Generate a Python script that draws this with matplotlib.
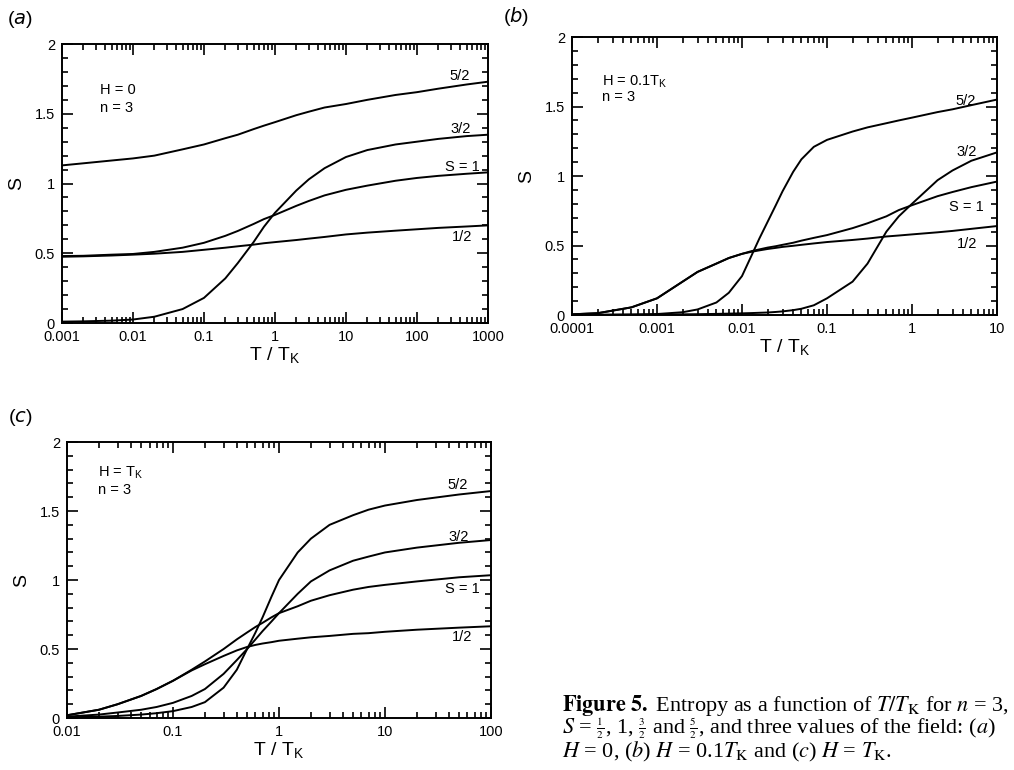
import numpy as np
import matplotlib
matplotlib.use('Agg')
import matplotlib.pyplot as plt
from matplotlib.ticker import LogLocator, MultipleLocator, FuncFormatter, NullFormatter

plt.rcParams['font.family'] = ['Liberation Sans', 'DejaVu Sans']

# panel (a): H = 0
xa = [0.001, 0.002, 0.005, 0.01, 0.02, 0.05, 0.1, 0.2, 0.3, 0.5, 0.7, 1, 2, 3, 5,
      10, 20, 50, 100, 200, 500, 1000]
a_52 = [1.13, 1.145, 1.165, 1.18, 1.20, 1.245, 1.28, 1.325, 1.35, 1.39, 1.415, 1.44,
        1.49, 1.515, 1.545, 1.57, 1.60, 1.635, 1.655, 1.68, 1.71, 1.73]
a_32 = [0.01, 0.012, 0.017, 0.025, 0.045, 0.10, 0.18, 0.32, 0.43, 0.58, 0.69, 0.79,
        0.95, 1.03, 1.11, 1.19, 1.24, 1.28, 1.30, 1.32, 1.34, 1.35]
a_1 = [0.48, 0.482, 0.49, 0.495, 0.51, 0.54, 0.575, 0.625, 0.66, 0.71, 0.745, 0.775,
       0.84, 0.875, 0.915, 0.955, 0.985, 1.02, 1.04, 1.055, 1.07, 1.08]
a_12 = [0.475, 0.478, 0.484, 0.49, 0.497, 0.51, 0.525, 0.54, 0.55, 0.562, 0.572, 0.58,
        0.595, 0.605, 0.617, 0.635, 0.648, 0.662, 0.672, 0.682, 0.692, 0.70]

# panel (b): H = 0.1 T_K
xb = [0.0001, 0.0002, 0.0005, 0.001, 0.002, 0.003, 0.005, 0.007, 0.01, 0.013, 0.016,
      0.02, 0.025, 0.03, 0.04, 0.05, 0.07, 0.1, 0.2, 0.3, 0.5, 0.7, 1, 2, 3, 5, 10]
b_52 = [0.0, 0.002, 0.004, 0.007, 0.02, 0.04, 0.09, 0.16, 0.28, 0.43, 0.55, 0.67,
        0.79, 0.89, 1.03, 1.12, 1.21, 1.26, 1.32, 1.35, 1.38, 1.40, 1.42, 1.46, 1.48,
        1.51, 1.55]
b_32 = [0.0, 0.001, 0.002, 0.003, 0.005, 0.006, 0.008, 0.01, 0.012, 0.014, 0.016,
        0.018, 0.022, 0.026, 0.035, 0.045, 0.07, 0.12, 0.24, 0.37, 0.60, 0.71, 0.80,
        0.97, 1.04, 1.11, 1.17]
b_1 = [0.005, 0.013, 0.055, 0.12, 0.24, 0.31, 0.37, 0.41, 0.44, 0.46, 0.472, 0.485,
       0.495, 0.505, 0.52, 0.535, 0.555, 0.575, 0.625, 0.66, 0.71, 0.755, 0.79, 0.855,
       0.885, 0.92, 0.96]
b_12 = [0.005, 0.013, 0.055, 0.12, 0.24, 0.31, 0.37, 0.41, 0.44, 0.455, 0.465, 0.475,
        0.483, 0.49, 0.498, 0.505, 0.515, 0.525, 0.54, 0.55, 0.565, 0.572, 0.58, 0.595,
        0.605, 0.62, 0.64]

# panel (c): H = T_K
xc = [0.01, 0.02, 0.03, 0.05, 0.07, 0.1, 0.15, 0.2, 0.3, 0.4, 0.5, 0.6, 0.7, 0.85,
      1, 1.5, 2, 3, 5, 7, 10, 20, 50, 100]
c_52 = [0.005, 0.01, 0.015, 0.025, 0.035, 0.05, 0.08, 0.115, 0.22, 0.35, 0.50, 0.62,
        0.73, 0.88, 1.00, 1.20, 1.30, 1.40, 1.47, 1.51, 1.54, 1.58, 1.62, 1.645]
c_32 = [0.01, 0.025, 0.04, 0.06, 0.08, 0.11, 0.16, 0.21, 0.32, 0.42, 0.50, 0.57,
        0.63, 0.70, 0.76, 0.90, 0.99, 1.07, 1.14, 1.17, 1.20, 1.235, 1.27, 1.29]
c_1 = [0.02, 0.06, 0.10, 0.16, 0.21, 0.27, 0.35, 0.41, 0.50, 0.57, 0.62, 0.66, 0.69,
       0.73, 0.76, 0.81, 0.85, 0.89, 0.93, 0.95, 0.965, 0.99, 1.02, 1.035]
c_12 = [0.02, 0.06, 0.10, 0.16, 0.21, 0.27, 0.345, 0.39, 0.45, 0.49, 0.515, 0.53,
        0.54, 0.55, 0.56, 0.575, 0.585, 0.595, 0.61, 0.615, 0.625, 0.64, 0.655, 0.665]

curve_names = ['5/2', '3/2', 'S = 1', '1/2']


def style_axes(ax, xmin, xmax):
    ax.set_xscale('log')
    ax.set_xlim(xmin, xmax)
    ax.set_ylim(0, 2)
    ax.xaxis.set_major_locator(LogLocator(base=10, numticks=20))
    ax.xaxis.set_minor_locator(LogLocator(base=10, subs=np.arange(2, 10), numticks=20))
    ax.xaxis.set_major_formatter(FuncFormatter(lambda v, p: '%g' % v))
    ax.xaxis.set_minor_formatter(NullFormatter())
    ax.yaxis.set_major_locator(MultipleLocator(0.5))
    ax.yaxis.set_minor_locator(MultipleLocator(0.1))
    ax.yaxis.set_major_formatter(FuncFormatter(lambda v, p: '%g' % v))
    ax.tick_params(which='both', direction='in', top=True, right=True, width=1.2,
                   labelsize=10.5)
    ax.tick_params(which='major', length=8, pad=5)
    ax.tick_params(which='minor', length=4)
    for sp in ax.spines.values():
        sp.set_linewidth(1.4)
    ax.set_xlabel('T / T$_\\mathregular{K}$', fontsize=14, labelpad=1)
    ax.set_ylabel('S', fontsize=14, labelpad=7)


fig = plt.figure(figsize=(10.14, 7.7), dpi=100)

panels = [
    ([0.0611, 0.5805, 0.4201, 0.3623], xa, [a_52, a_32, a_1, a_12], 0.001, 1000,
     [(0.934, 0.885), (0.936, 0.695), (0.939, 0.559), (0.939, 0.307)],
     ['H = 0', 'n = 3'], [(0.089, 0.835), (0.089, 0.771)], 'a', (7, 20)),
    ([0.5641, 0.5909, 0.4191, 0.3610], xb, [b_52, b_32, b_1, b_12], 0.0001, 10,
     [(0.927, 0.770), (0.929, 0.586), (0.927, 0.388), (0.929, 0.255)],
     ['H = 0.1T$_\\mathregular{K}$', 'n = 3'], [(0.071, 0.840), (0.071, 0.786)],
     'b', (503, 17)),
    ([0.0661, 0.0675, 0.4181, 0.3584], xc, [c_52, c_32, c_1, c_12], 0.01, 100,
     [(0.922, 0.844), (0.924, 0.656), (0.932, 0.467), (0.932, 0.293)],
     ['H = T$_\\mathregular{K}$', 'n = 3'], [(0.073, 0.888), (0.073, 0.826)],
     'c', (8, 418)),
]

for rect, x, curves, xmin, xmax, lab_pos, info, info_pos, tag, tag_px in panels:
    ax = fig.add_axes(rect)
    for y in curves:
        ax.plot(x, y, color='black', lw=1.4)
    style_axes(ax, xmin, xmax)
    for name, (fx, fy) in zip(curve_names, lab_pos):
        ax.text(fx, fy, name, transform=ax.transAxes, ha='center', va='center',
                fontsize=10.5)
    for s, (fx, fy) in zip(info, info_pos):
        ax.text(fx, fy, s, transform=ax.transAxes, ha='left', va='center',
                fontsize=10.5)
    fig.text(tag_px[0] / 1014, 1 - tag_px[1] / 770, '($\\it{' + tag + '}$)',
             ha='left', va='center', fontsize=14, math_fontfamily='dejavusans')

# caption
cap_lines = [
    r'$\mathbf{Figure\ 5.}$ Entropy as a function of $T/T_{\rm K}$ for $n$ = 3,',
    r'$S$ = $\genfrac{}{}{0.6}{2}{1}{2}$, 1, $\genfrac{}{}{0.6}{2}{3}{2}$ and '
    r'$\genfrac{}{}{0.6}{2}{5}{2}$, and three values of the field: ($a$)',
    r'$H$ = 0, ($b$) $H$ = 0.1$T_{\rm K}$ and ($c$) $H$ = $T_{\rm K}$.',
]
cap_y = [706, 729, 752]
for line, ypx in zip(cap_lines, cap_y):
    fig.text(562 / 1014, 1 - ypx / 770, line, ha='left', va='center', fontsize=16,
             family='Liberation Serif', math_fontfamily='stix')

plt.savefig('out.png', dpi=100)
